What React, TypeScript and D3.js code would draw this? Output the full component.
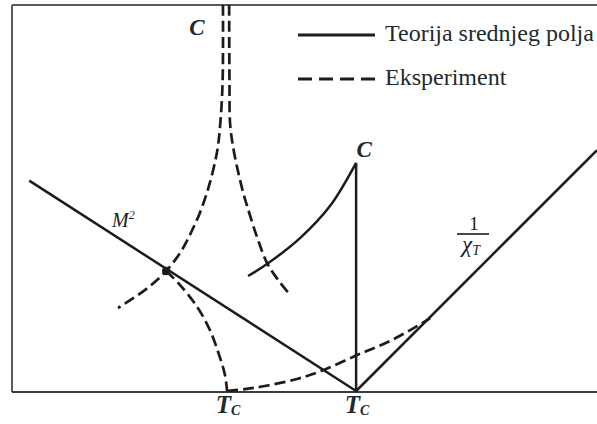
import React from "react";
import * as d3 from "d3";

// Reduced temperature T / Tc(mean field) on x, arbitrary units on y
const T_C_MEAN_FIELD = 1.0;
const T_C_EXPERIMENT = 0.625;

// Mean-field (solid) curves: [T, value]
const mfMagnetization: [number, number][] = [
  [0.05, 0.545],
  [1.0, 0.0],
];
const mfHeatCapacity: [number, number][] = [
  [0.686, 0.298],
  [0.741, 0.329],
  [0.837, 0.396],
  [0.924, 0.479],
  [1.0, 0.591],
];
const mfHeatJump: [number, number][] = [
  [1.0, 0.0],
  [1.0, 0.591],
];
const mfInverseSusceptibility: [number, number][] = [
  [1.0, 0.0],
  [1.7, 0.624],
];

// Experimental (dashed) curves
const expHeatBelow: [number, number][] = [
  [0.613, 1.0],
  [0.612, 0.8],
  [0.605, 0.69],
  [0.596, 0.62],
  [0.572, 0.53],
  [0.547, 0.464],
  [0.52, 0.41],
  [0.49, 0.36],
  [0.448, 0.311],
  [0.387, 0.262],
  [0.308, 0.215],
];
const expHeatAbove: [number, number][] = [
  [0.631, 1.0],
  [0.632, 0.8],
  [0.634, 0.69],
  [0.645, 0.62],
  [0.67, 0.52],
  [0.683, 0.48],
  [0.712, 0.399],
  [0.741, 0.332],
  [0.773, 0.288],
  [0.808, 0.249],
];
const expMagnetization: [number, number][] = [
  [0.448, 0.311],
  [0.488, 0.275],
  [0.538, 0.218],
  [0.575, 0.158],
  [0.602, 0.093],
  [0.619, 0.041],
  [0.625, 0.0],
];
const expInverseSusceptibility: [number, number][] = [
  [0.625, 0.0],
  [0.677, 0.005],
  [0.735, 0.013],
  [0.828, 0.031],
  [0.904, 0.054],
  [1.003, 0.093],
  [1.099, 0.13],
  [1.177, 0.168],
  [1.215, 0.189],
];
const crossingPoint: [number, number] = [0.448, 0.311];

const legendItems = [
  { label: "Teorija srednjeg polja", dashed: false },
  { label: "Eksperiment", dashed: true },
];

const W = 597;
const H = 424;
const INK = "#1c1c1c";
const TEXT = "#1e2a2e";
const FRAME = "#5a5a5a";
const SERIF = '"Liberation Serif", "DejaVu Serif", serif';

const serif = { fontFamily: SERIF };
const serifBoldItalic = { fontFamily: SERIF, fontWeight: 700, fontStyle: "italic" as const };
const serifItalic = { fontFamily: SERIF, fontStyle: "italic" as const };

export default function App() {
  const x = d3.scaleLinear().domain([0, 1.7]).range([12, 597]);
  const y = d3.scaleLinear().domain([0, 1]).range([391, 5]);

  const straight = d3
    .line<[number, number]>()
    .x((d) => x(d[0]))
    .y((d) => y(d[1]));
  const smooth = d3
    .line<[number, number]>()
    .x((d) => x(d[0]))
    .y((d) => y(d[1]))
    .curve(d3.curveCatmullRom.alpha(0.5));

  const solid = { fill: "none", stroke: INK, strokeWidth: 2.5 };
  const dashed = { ...solid, strokeWidth: 2.7, strokeDasharray: "11,5" };

  const x0 = x.range()[0];
  const x1 = x.range()[1];
  const yTop = y.range()[1];
  const yBase = y(0) + 1;

  return (
    <svg
      width={W}
      height={H}
      style={{ position: "absolute", left: 0, top: 0, background: "#fff" }}
    >
      {/* frame */}
      <line x1={x0} x2={x1} y1={yTop} y2={yTop} stroke={FRAME} strokeWidth={2} />
      <line x1={x0} x2={x0} y1={yTop} y2={yBase} stroke={FRAME} strokeWidth={2} />
      <line x1={x0} x2={x1} y1={yBase} y2={yBase} stroke="#3a3a3a" strokeWidth={2} />

      {/* mean-field theory */}
      <path d={straight(mfMagnetization)!} {...solid} />
      <path d={smooth(mfHeatCapacity)!} {...solid} />
      <path d={straight(mfHeatJump)!} {...solid} />
      <path d={straight(mfInverseSusceptibility)!} {...solid} />

      {/* experiment */}
      <path d={smooth(expHeatBelow)!} {...dashed} />
      <path d={smooth(expHeatAbove)!} {...dashed} />
      <path d={smooth(expMagnetization)!} {...dashed} />
      <path d={smooth(expInverseSusceptibility)!} {...dashed} />
      <circle cx={x(crossingPoint[0])} cy={y(crossingPoint[1])} r={4.2} fill={INK} />

      {/* legend */}
      {legendItems.map((item, i) => {
        const ly = 35 + i * 44;
        return (
          <g key={item.label}>
            <line
              x1={298}
              x2={375}
              y1={ly}
              y2={ly}
              stroke={INK}
              strokeWidth={2.8}
              strokeDasharray={item.dashed ? "14,7" : undefined}
            />
            <text x={385} y={ly + 6} fontSize={24} fill={TEXT} style={serif}>
              {item.label}
            </text>
          </g>
        );
      })}

      {/* curve labels */}
      <text
        x={x(expHeatBelow[0][0]) - 26}
        y={35}
        fontSize={23}
        textAnchor="middle"
        fill={TEXT}
        style={serifBoldItalic}
      >
        C
      </text>
      <text
        x={x(T_C_MEAN_FIELD) + 8}
        y={y(mfHeatJump[1][1]) - 6}
        fontSize={23}
        textAnchor="middle"
        fill={TEXT}
        style={serifBoldItalic}
      >
        C
      </text>
      <text x={112} y={227} fontSize={20} fill={INK} style={serifItalic}>
        M<tspan fontSize={12} dy={-8}>2</tspan>
      </text>
      <g fill={INK}>
        <text x={474} y={230} fontSize={19} textAnchor="middle" style={serif}>
          1
        </text>
        <line x1={457} x2={489} y1={234} y2={234} stroke={INK} strokeWidth={1.6} />
        <text x={471} y={252} fontSize={23} textAnchor="middle" style={serifItalic}>
          χ<tspan fontSize={14} dy={3}>T</tspan>
        </text>
      </g>

      {/* critical temperatures */}
      {[T_C_EXPERIMENT, T_C_MEAN_FIELD].map((tc) => (
        <text
          key={tc}
          x={x(tc) + 1}
          y={413}
          fontSize={25}
          textAnchor="middle"
          fill={TEXT}
          style={serifBoldItalic}
        >
          T<tspan fontSize={14} dy={2}>C</tspan>
        </text>
      ))}
    </svg>
  );
}
